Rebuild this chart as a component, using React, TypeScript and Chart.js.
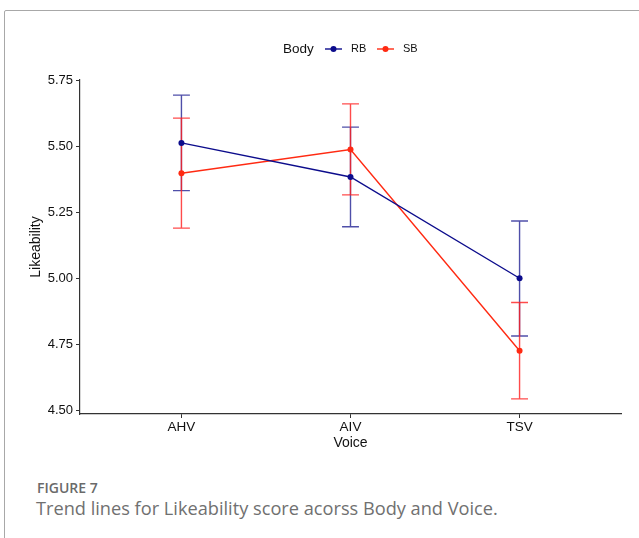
import React, { useEffect, useRef } from "react";
import { Chart, registerables } from "chart.js";

Chart.register(...registerables);

const categories = ["AHV", "AIV", "TSV"];
const seriesNames = ["RB", "SB"];
const rbMean = [5.513, 5.384, 5.0];
const rbUpper = [5.694, 5.573, 5.217];
const rbLower = [5.332, 5.195, 4.781];
const sbMean = [5.398, 5.488, 4.725];
const sbUpper = [5.607, 5.661, 4.908];
const sbLower = [5.19, 5.316, 4.543];
const yTicks = [4.5, 4.75, 5.0, 5.25, 5.5, 5.75];

const lineColors = ["#0c0c8c", "#ff2a12"];
const barColors = ["rgba(20,20,140,0.75)", "rgba(255,30,30,0.8)"];
const FONT = "'Liberation Sans', Arial, sans-serif";

const errorBars = {
  id: "errorBars",
  beforeDatasetsDraw(chart: any) {
    const { ctx, scales } = chart;
    const xs = scales.x;
    const ys = scales.y;
    const sets = [
      { up: rbUpper, lo: rbLower, c: barColors[0] },
      { up: sbUpper, lo: sbLower, c: barColors[1] },
    ];
    ctx.save();
    sets.forEach((s) => {
      ctx.strokeStyle = s.c;
      ctx.lineWidth = 1.4;
      categories.forEach((_, i) => {
        const x = xs.getPixelForValue(i);
        const y1 = ys.getPixelForValue(s.up[i]);
        const y2 = ys.getPixelForValue(s.lo[i]);
        const half = (xs.getPixelForValue(1) - xs.getPixelForValue(0)) * 0.05;
        ctx.beginPath();
        ctx.moveTo(x, y1);
        ctx.lineTo(x, y2);
        ctx.moveTo(x - half, y1);
        ctx.lineTo(x + half, y1);
        ctx.moveTo(x - half, y2);
        ctx.lineTo(x + half, y2);
        ctx.stroke();
      });
    });
    ctx.restore();
  },
};

const customLegend = {
  id: "customLegend",
  afterDraw(chart: any) {
    const { ctx } = chart;
    ctx.save();
    ctx.textBaseline = "middle";
    ctx.textAlign = "left";
    ctx.fillStyle = "#111";
    ctx.font = `13.5px ${FONT}`;
    const y = 49;
    ctx.fillText("Body", 283, y);
    let x = 325;
    seriesNames.forEach((name, i) => {
      ctx.strokeStyle = lineColors[i];
      ctx.lineWidth = 1.4;
      ctx.beginPath();
      ctx.moveTo(x, y);
      ctx.lineTo(x + 17, y);
      ctx.stroke();
      ctx.fillStyle = lineColors[i];
      ctx.beginPath();
      ctx.arc(x + 8.5, y, 3, 0, Math.PI * 2);
      ctx.fill();
      ctx.fillStyle = "#111";
      ctx.font = `11px ${FONT}`;
      ctx.fillText(name, x + 26, y);
      x += 52;
    });
    ctx.restore();
  },
};

export default function App() {
  const ref = useRef<HTMLCanvasElement>(null);
  useEffect(() => {
    if (!ref.current) return;
    const means = [rbMean, sbMean];
    const chart = new Chart(ref.current, {
      type: "line",
      data: {
        datasets: seriesNames.map((name, k) => ({
          label: name,
          data: means[k].map((v, i) => ({ x: i, y: v })),
          borderColor: lineColors[k],
          backgroundColor: lineColors[k],
          borderWidth: 1.4,
          pointRadius: 3,
          pointHoverRadius: 3,
          pointBorderWidth: 0,
          tension: 0,
        })),
      },
      options: {
        animation: false,
        responsive: false,
        events: [],
        layout: { padding: { left: 25, top: 80, right: 18, bottom: 17 } },
        plugins: { legend: { display: false }, tooltip: { enabled: false } },
        scales: {
          x: {
            type: "linear",
            min: -0.6,
            max: 2.6,
            afterBuildTicks: (s: any) => {
              s.ticks = categories.map((_, i) => ({ value: i }));
            },
            afterFit: (s: any) => {
              s.height = 39;
            },
            ticks: {
              callback: (v: any) => categories[v] ?? "",
              color: "#111",
              font: { family: FONT, size: 13.5 },
              padding: 1,
              maxRotation: 0,
            },
            grid: { drawOnChartArea: false, drawTicks: true, tickLength: 4, color: "#333" },
            border: { display: true, color: "#333", width: 1.2 },
            title: {
              display: true,
              text: "Voice",
              color: "#111",
              font: { family: FONT, size: 14 },
              padding: { top: 0, bottom: 1 },
            },
          },
          y: {
            type: "linear",
            min: 4.4855,
            max: 5.7515,
            afterBuildTicks: (s: any) => {
              s.ticks = yTicks.map((v) => ({ value: v }));
            },
            afterFit: (s: any) => {
              s.width = 55;
            },
            ticks: {
              callback: (v: any) => Number(v).toFixed(2),
              color: "#111",
              font: { family: FONT, size: 13 },
              padding: 3,
            },
            grid: { drawOnChartArea: false, drawTicks: true, tickLength: 4, color: "#333" },
            border: { display: true, color: "#333", width: 1.2 },
            title: {
              display: true,
              text: "Likeability",
              color: "#111",
              font: { family: FONT, size: 14 },
              padding: { top: 3, bottom: 0 },
            },
          },
        },
      },
      plugins: [errorBars, customLegend],
    } as any);
    return () => chart.destroy();
  }, []);

  return (
    <div style={{ position: "absolute", left: 0, top: 0, width: 639, height: 538, background: "#fff", overflow: "hidden" }}>
      <div
        style={{
          position: "absolute",
          left: 4,
          top: 10,
          width: 700,
          height: 600,
          border: "1px solid #a8a8a8",
          borderRadius: 2,
          boxSizing: "border-box",
        }}
      />
      <canvas ref={ref} width={639} height={470} style={{ position: "absolute", left: 0, top: 0 }} />
      <div
        style={{
          position: "absolute",
          left: 37,
          top: 479,
          fontFamily: "'Open Sans', sans-serif",
          fontWeight: 600,
          fontSize: 14,
          color: "#6a6a6a",
          lineHeight: "18px",
          whiteSpace: "nowrap",
        }}
      >
        FIGURE 7
      </div>
      <div
        style={{
          position: "absolute",
          left: 36,
          top: 495,
          fontFamily: "'Open Sans', sans-serif",
          fontWeight: 400,
          fontSize: 18.2,
          color: "#707070",
          lineHeight: "26px",
          whiteSpace: "nowrap",
        }}
      >
        Trend lines for Likeability score acorss Body and Voice.
      </div>
    </div>
  );
}
